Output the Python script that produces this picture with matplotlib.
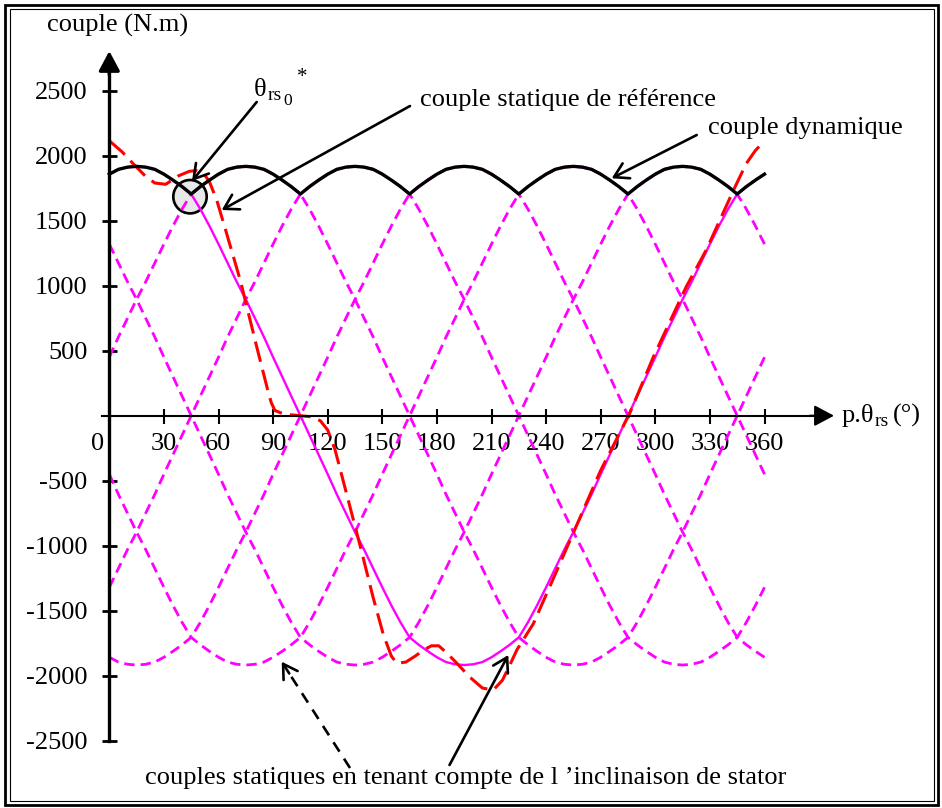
import numpy as np
import matplotlib
matplotlib.use('Agg')
import matplotlib.pyplot as plt
from matplotlib.patches import Ellipse, Rectangle

plt.rcParams['font.family'] = ['Liberation Serif', 'DejaVu Serif']
plt.rcParams['mathtext.fontset'] = 'custom'
plt.rcParams['mathtext.rm'] = 'Liberation Serif'
plt.rcParams['mathtext.it'] = 'Liberation Serif:italic'
plt.rcParams['lines.scale_dashes'] = False

# ---------------- data ----------------
theta = np.arange(0, 361, 5)
# static torque (with stator skew), reference phase (solid magenta)
static_ref = [1858, 1895, 1912, 1918, 1912, 1895, 1858, 1812, 1762, 1705,
              1590, 1460, 1320, 1175, 1030, 895, 750, 605, 450, 300, 150, 0,
              -150, -300, -450, -605, -750, -895, -1030, -1175, -1320, -1460,
              -1590, -1705, -1762, -1812, -1858, -1895, -1912, -1918, -1912,
              -1895, -1858, -1812, -1762, -1705, -1590, -1460, -1320, -1175,
              -1030, -895, -750, -605, -450, -300, -150, 0, 150, 300, 450, 605,
              750, 895, 1030, 1175, 1320, 1460, 1590, 1705, 1762, 1812, 1858]
# phase shifts of the other static torques (degrees)
static_shifts = [60, 120, 180, 240, 300]
# dynamic torque (black)
dynamic = [1858, 1895, 1912, 1918, 1912, 1895, 1858, 1812, 1762, 1705,
           1762, 1812, 1858, 1895, 1912, 1918, 1912, 1895, 1858, 1812, 1762, 1705,
           1762, 1812, 1858, 1895, 1912, 1918, 1912, 1895, 1858, 1812, 1762, 1705,
           1762, 1812, 1858, 1895, 1912, 1918, 1912, 1895, 1858, 1812, 1762, 1705,
           1762, 1812, 1858, 1895, 1912, 1918, 1912, 1895, 1858, 1812, 1762, 1705,
           1762, 1812, 1858, 1895, 1912, 1918, 1912, 1895, 1858, 1812, 1762, 1705,
           1762, 1812, 1858]
# reference static torque (red long dashes)
red_theta = [0, 7, 13, 20, 25, 31, 38, 44, 48, 52, 55, 59, 64.5, 72, 81, 87, 89,
             91, 96, 105, 112, 116, 120, 124, 128.5, 138, 145, 150.5, 155, 158,
             163, 168, 173, 177, 181, 185, 190, 198, 205, 211, 216, 220, 224,
             233, 245, 255, 270, 286, 299, 317, 328, 335.5, 343, 350, 355, 360]
red_values = [2115, 2030, 1940, 1840, 1790, 1780, 1845, 1880, 1885, 1860, 1800,
              1660, 1400, 1040, 530, 200, 100, 40, 12, 0, -10, -40, -110, -260,
              -500, -1010, -1400, -1680, -1850, -1905, -1895, -1850, -1800,
              -1770, -1770, -1820, -1890, -2010, -2095, -2110, -2035, -1920,
              -1800, -1600, -1220, -900, -420, 20, 454, 992, 1275, 1505, 1736,
              1940, 2040, 2115]

x_ticks = [30, 60, 90, 120, 150, 180, 210, 240, 270, 300, 330, 360]
x_tick_labels = [str(v) for v in x_ticks]
y_ticks = [-2500, -2000, -1500, -1000, -500, 500, 1000, 1500, 2000, 2500]
y_tick_labels = ['-2500', '-2000', '-1500', '-1000', '-500', '500', '1000',
                 '1500', '2000', '2500']

# ---------------- layout helpers (pixel -> data) ----------------
W, H = 942, 808
X0PX, Y0PX = 109.3, 415.7
PX_PER_DEG = 655.2 / 360.0
PX_PER_NM = 65.0 / 500.0


def X(px):
    return (px - X0PX) / PX_PER_DEG


def Y(py):
    return (Y0PX - py) / PX_PER_NM


def P(px, py):
    return (X(px), Y(py))


fig = plt.figure(figsize=(W / 100, H / 100), dpi=100)
ax = fig.add_axes([0, 0, 1, 1])
ax.set_xlim(X(0), X(W))
ax.set_ylim(Y(H), Y(0))
ax.patch.set_visible(False)

MAG = '#ff00ff'

# static torques
ref = np.array(static_ref, dtype=float)
base = ref[:-1]
for s in static_shifts:
    k = int(round(s / 5))
    vals = np.roll(base, k)
    vals = np.append(vals, vals[0])
    ax.plot(theta, vals, color=MAG, lw=2.0, linestyle=(0, (7.5, 4.3)),
            zorder=3, solid_capstyle='butt', dash_capstyle='butt')
ax.plot(theta, ref, color=MAG, lw=1.7, zorder=4)

# reference static torque
ax.plot(red_theta, red_values, color='#ff0000', lw=2.2,
        linestyle=(0, (15, 6)), zorder=5, dash_capstyle='butt')

# dynamic torque
ax.plot(theta, dynamic, color='black', lw=2.4, zorder=6)

# circle marker for theta_rs0*
ax.add_patch(Ellipse(P(190, 196.7), 2 * 16.7 / PX_PER_DEG, 2 * 16.7 / PX_PER_NM,
                     facecolor='#e8e8e8', edgecolor='black', lw=1.9, zorder=2))

# ---------------- axes ----------------
for side in ('top', 'right'):
    ax.spines[side].set_visible(False)
ax.spines['left'].set_position(('data', 0))
ax.spines['bottom'].set_position(('data', 0))
ax.spines['left'].set_linewidth(2.4)
ax.spines['bottom'].set_linewidth(1.5)
ax.spines['left'].set_bounds(-2500, Y(62))
ax.spines['bottom'].set_bounds(X(101.7), X(822))
ax.spines['left'].set_zorder(7)
ax.spines['bottom'].set_zorder(7)

ax.set_xticks(x_ticks)
ax.set_xticklabels(x_tick_labels)
ax.set_yticks(y_ticks)
ax.set_yticklabels(y_tick_labels)
ax.tick_params(axis='x', direction='inout', length=10.8, width=1.5, pad=6.7,
               labelsize=19)
ax.tick_params(axis='y', direction='inout', length=10.8, width=2.0, pad=10.4,
               labelsize=19)
ax.text(X(97.5), Y(432.5), '0', fontsize=19, ha='center', va='top')

# axis arrow heads
ax.annotate('', xy=P(109.3, 51), xytext=P(109.3, 75),
            arrowprops=dict(arrowstyle='-|>,head_length=0.6,head_width=0.32',
                            color='black', lw=2.4, mutation_scale=20,
                            shrinkA=0, shrinkB=0), zorder=8)
ax.annotate('', xy=P(834, 415.7), xytext=P(810, 415.7),
            arrowprops=dict(arrowstyle='-|>,head_length=0.6,head_width=0.32',
                            color='black', lw=1.5, mutation_scale=20,
                            shrinkA=0, shrinkB=0), zorder=8)

# axis labels
ax.text(X(46.7), Y(25), 'couple (N.m)', fontsize=19, ha='left', va='center')
ax.text(X(841.7), Y(422), 'p.θ', fontsize=19, ha='left', va='baseline')
ax.text(X(874.5), Y(426), 'rs', fontsize=14, ha='left', va='baseline')
ax.text(X(893), Y(422), '(°)', fontsize=19, ha='left', va='baseline')

# ---------------- annotations ----------------
arrow_kw = dict(arrowstyle='->,head_length=0.5,head_width=0.3', color='black',
                lw=1.9, mutation_scale=20, shrinkA=0, shrinkB=0)

ax.text(X(254), Y(96), 'θ', fontsize=19, ha='left', va='baseline')
ax.text(X(267.5), Y(100), 'rs', fontsize=14, ha='left', va='baseline')
ax.text(X(283), Y(105), '0', fontsize=12.5, ha='left', va='baseline')
ax.text(X(302), Y(78), '*', fontsize=15, ha='center', va='center')
ax.annotate('', xy=P(192, 181), xytext=P(256.7, 102), arrowprops=arrow_kw,
            zorder=9)

ax.text(X(420), Y(100), 'couple statique de référence', fontsize=19,
        ha='left', va='center')
ax.annotate('', xy=P(221.7, 210), xytext=P(410, 106), arrowprops=arrow_kw,
            zorder=9)

ax.text(X(708), Y(128), 'couple dynamique', fontsize=19, ha='left',
        va='center')
ax.annotate('', xy=P(611.7, 178.3), xytext=P(696.7, 135), arrowprops=arrow_kw,
            zorder=9)

ax.text(X(145), Y(778), "couples statiques en tenant compte de l \u2019inclinaison de stator",
        fontsize=19, ha='left', va='center')
# dashed arrow
tail = np.array([350, 768.0])
head = np.array([281.7, 661.7])
d = (head - tail) / np.linalg.norm(head - tail)
mid = head - d * 14
ax.plot([X(tail[0]), X(mid[0])], [Y(tail[1]), Y(mid[1])], color='black',
        lw=1.9, linestyle=(0, (8, 6)), zorder=9)
ax.annotate('', xy=P(*head), xytext=P(*mid), arrowprops=arrow_kw, zorder=9)
ax.annotate('', xy=P(508.3, 655), xytext=P(449.5, 765), arrowprops=arrow_kw,
            zorder=9)

# ---------------- double frame ----------------
def frame(l, t, r, b, lw):
    fig.add_artist(Rectangle((l / W, 1 - b / H), (r - l) / W, (b - t) / H,
                             transform=fig.transFigure, fill=False,
                             edgecolor='black', lw=lw))

frame(5.3, 5.3, 937.5, 804.5, 2.0)
frame(9.5, 8.8, 933.5, 800.5, 0.8)

fig.savefig('out.png', dpi=100)
